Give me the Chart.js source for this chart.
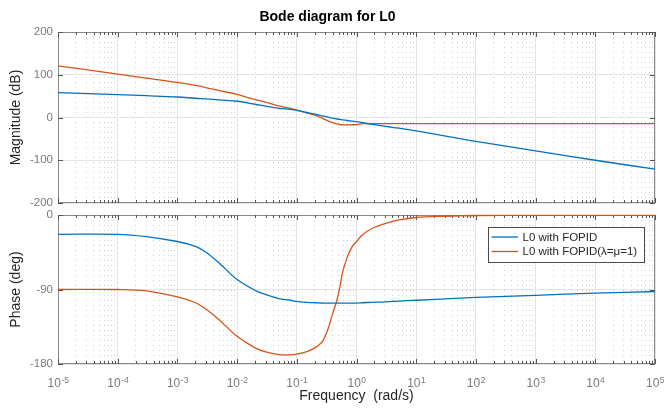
<!DOCTYPE html>
<html>
<head>
<meta charset="utf-8">
<script src="https://cdn.jsdelivr.net/npm/chart.js@4.4.0/dist/chart.umd.min.js"></script>
<style>
  body { margin: 0; background: #fff; }
  #wrap { position: relative; width: 664px; height: 410px; }
  #wrap canvas { position: absolute; left: 0; top: 0; }
</style>
</head>
<body>
<div id="wrap">
  <canvas id="phase" width="664" height="410"></canvas>
  <canvas id="mag" width="664" height="410"></canvas>
</div>
<script>
// frequency points (rad/s)
const freq = [1e-5, 1e-4, 3e-4, 1e-3, 2e-3, 3e-3, 5e-3, 1e-2, 2e-2, 3e-2, 5e-2, 0.078, 0.1, 0.147, 0.2, 0.26, 0.3, 0.34, 0.38, 0.43, 0.47, 0.53, 0.59, 0.71, 0.85, 1, 1.26, 1.85, 3.1, 5.1, 10, 30, 100, 1000, 1e4, 1e5];

// magnitude (dB)
const magFopid = [58, 53.5, 51, 48, 45, 43.5, 41, 38, 31, 26.5, 21.5, 19, 16.5, 12, 8, 4, 2.5, 0.7, -1, -2.5, -3.5, -4.5, -5.5, -7, -8.5, -9.7, -12, -16, -21, -25, -31.5, -43, -56, -78, -100, -121];
const magPid = [121, 101.6, 92, 82, 75, 70, 63, 54, 42, 36, 27, 21.4, 17.5, 10.5, 5.8, -1, -5, -8.5, -11, -13.5, -15, -16.5, -17, -17, -17, -16.5, -14.5, -14.5, -14.5, -14.5, -14.5, -14.5, -14.5, -14.5, -14.5, -14.5];

// phase (deg)
const phFopid = [-23.3, -23.3, -26, -32, -38, -45, -58, -78, -91, -96, -101, -103, -104.4, -105.5, -106, -106.3, -106.4, -106.5, -106.5, -106.5, -106.5, -106.5, -106.5, -106.5, -106.5, -106.4, -106, -105.5, -105, -104, -103, -101.3, -99.6, -97, -94.4, -92.4];
const phPid = [-90, -90, -91.6, -99, -106, -113.6, -126.5, -146.6, -160.6, -165.5, -168.7, -169, -168, -165, -160.5, -154, -146, -136, -124, -112, -103, -86, -68, -50, -38, -32, -24, -16, -10, -6, -3, -1.5, -0.6, -0.5, -0.5, -0.5];

const seriesNames = ["L0 with FOPID", "L0 with FOPID(\u03bb=\u03bc=1)"];
const magTicks = [-200, -100, 0, 100, 200];
const phaseTicks = [-180, -90, 0];
const decadeExps = [-5, -4, -3, -2, -1, 0, 1, 2, 3, 4, 5];

const BLUE = "#0072BD";
const ORANGE = "#D95319";
const FONT = "'Liberation Sans', Arial, Helvetica, sans-serif";
Chart.defaults.font.family = FONT;

// 1..9 x 10^n grid positions on the frequency axis
const gridVals = [];
for (let e = -5; e < 5; e++) {
    for (let m = 1; m <= 9; m++) gridVals.push(m * Math.pow(10, e));
}
gridVals.push(1e5);

function isDecade(v) {
    if (v === undefined) return true;
    const l = Math.log10(v);
    return Math.abs(l - Math.round(l)) < 1e-9;
}

function pts(ys) {
    return freq.map((f, i) => ({ x: f, y: ys[i] }));
}

function xAxis(bottom) {
    return {
        type: "logarithmic",
        min: 1e-5,
        max: 1e5,
        afterBuildTicks: s => { s.ticks = gridVals.map(v => ({ value: v })); },
        ticks: { display: false, autoSkip: false },
        grid: {
            drawTicks: false,
            color: c => isDecade(c.tick && c.tick.value) ? "#e4e4e4" : "#d2d2d2"
        },
        border: {
            display: false,
            dash: c => isDecade(c.tick && c.tick.value) ? [] : [1, 4]
        },
        title: {
            display: bottom,
            text: "Frequency  (rad/s)",
            color: "#262626",
            font: { size: 14 },
            padding: { top: 0, bottom: 5 }
        },
        afterFit: s => { s.height = bottom ? 46 : 0; }
    };
}

function yAxis(min, max, ticks, label) {
    return {
        min: min,
        max: max,
        afterBuildTicks: s => { s.ticks = ticks.map(v => ({ value: v })); },
        ticks: { color: "#7a7a7a", font: { size: 11.5 }, padding: 5 },
        grid: { drawTicks: false, color: "#e4e4e4" },
        border: { display: false },
        title: {
            display: true,
            text: label,
            color: "#262626",
            font: { size: 14 },
            padding: { top: 8, bottom: 0 }
        },
        afterFit: s => { s.width = 58; }
    };
}

// axes box with inward tick marks, MATLAB style
const framePlugin = {
    id: "frame",
    beforeDatasetsDraw(chart) {
        const { ctx, chartArea: a, scales } = chart;
        ctx.save();
        ctx.strokeStyle = "#8a8a8a";
        ctx.lineWidth = 1;
        ctx.strokeRect(a.left + 0.5, a.top + 0.5, a.right - a.left - 1, a.bottom - a.top - 1);
        ctx.strokeStyle = "#555";
        ctx.beginPath();
        scales.x.ticks.forEach(t => {
            const x = Math.round(scales.x.getPixelForValue(t.value)) + 0.5;
            const len = isDecade(t.value) ? 5 : 3;
            ctx.moveTo(x, a.top); ctx.lineTo(x, a.top + len);
            ctx.moveTo(x, a.bottom); ctx.lineTo(x, a.bottom - len);
        });
        scales.y.ticks.forEach(t => {
            const y = Math.round(scales.y.getPixelForValue(t.value)) + 0.5;
            ctx.moveTo(a.left, y); ctx.lineTo(a.left + 5, y);
            ctx.moveTo(a.right, y); ctx.lineTo(a.right - 5, y);
        });
        ctx.stroke();
        ctx.restore();
    },
    afterDraw(chart, args, opts) {
        const { ctx, chartArea: a, scales } = chart;
        ctx.save();
        if (opts.decadeLabels) {
            ctx.fillStyle = "#7a7a7a";
            ctx.textBaseline = "alphabetic";
            ctx.textAlign = "left";
            decadeExps.forEach(e => {
                const x = scales.x.getPixelForValue(Math.pow(10, e));
                const exp = String(e);
                ctx.font = "12px " + FONT;
                const wb = ctx.measureText("10").width;
                ctx.font = "8.5px " + FONT;
                const we = ctx.measureText(exp).width;
                const x0 = x - (wb + we) / 2;
                ctx.font = "12px " + FONT;
                ctx.fillText("10", x0, a.bottom + 23);
                ctx.font = "8.5px " + FONT;
                ctx.fillText(exp, x0 + wb + 0.5, a.bottom + 18.5);
            });
        }

        if (opts.legend) {
            const bx = 488, by = 227, bw = 156, bh = 35;
            ctx.fillStyle = "#fff";
            ctx.fillRect(bx, by, bw, bh);
            ctx.strokeStyle = "#4a4a4a";
            ctx.lineWidth = 1;
            ctx.strokeRect(bx + 0.5, by + 0.5, bw, bh);
            ctx.font = "11.5px " + FONT;
            ctx.textBaseline = "middle";
            chart.data.datasets.forEach((ds, i) => {
                const y = by + 10 + i * 14.5;
                ctx.strokeStyle = ds.borderColor;
                ctx.lineWidth = 1.3;
                ctx.beginPath();
                ctx.moveTo(bx + 3.5, y); ctx.lineTo(bx + 30, y);
                ctx.stroke();
                ctx.fillStyle = "#262626";
                ctx.fillText(ds.label, bx + 34.5, y + 0.5);
            });
        }
        ctx.restore();
    }
};

function lineSet(label, ys, color) {
    return {
        label: label,
        data: pts(ys),
        borderColor: color,
        backgroundColor: color,
        borderWidth: 1.3,
        pointRadius: 0,
        tension: 0.35,
        clip: 2,
        fill: false
    };
}

new Chart(document.getElementById("mag"), {
    type: "line",
    data: {
        datasets: [
            lineSet(seriesNames[0], magFopid, BLUE),
            lineSet(seriesNames[1], magPid, ORANGE)
        ]
    },
    options: {
        responsive: false,
        animation: false,
        layout: { padding: { top: 0, left: 0, right: 9, bottom: 207 } },
        scales: {
            x: xAxis(false),
            y: yAxis(-200, 200, magTicks, "Magnitude (dB)")
        },
        plugins: {
            legend: { display: false },
            tooltip: { enabled: false },
            title: {
                display: true,
                text: "Bode diagram for L0",
                color: "#000",
                font: { size: 14, weight: "bold" },
                padding: { top: 9, bottom: 6.2 }
            },
            frame: {}
        }
    },
    plugins: [framePlugin]
});

new Chart(document.getElementById("phase"), {
    type: "line",
    data: {
        datasets: [
            lineSet(seriesNames[0], phFopid, BLUE),
            lineSet(seriesNames[1], phPid, ORANGE)
        ]
    },
    options: {
        responsive: false,
        animation: false,
        layout: { padding: { top: 215, left: 0, right: 9, bottom: 0 } },
        scales: {
            x: xAxis(true),
            y: yAxis(-180, 0, phaseTicks, "Phase (deg)")
        },
        plugins: {
            legend: { display: false },
            tooltip: { enabled: false },
            frame: { decadeLabels: true, legend: true }
        }
    },
    plugins: [framePlugin]
});
</script>
</body>
</html>
